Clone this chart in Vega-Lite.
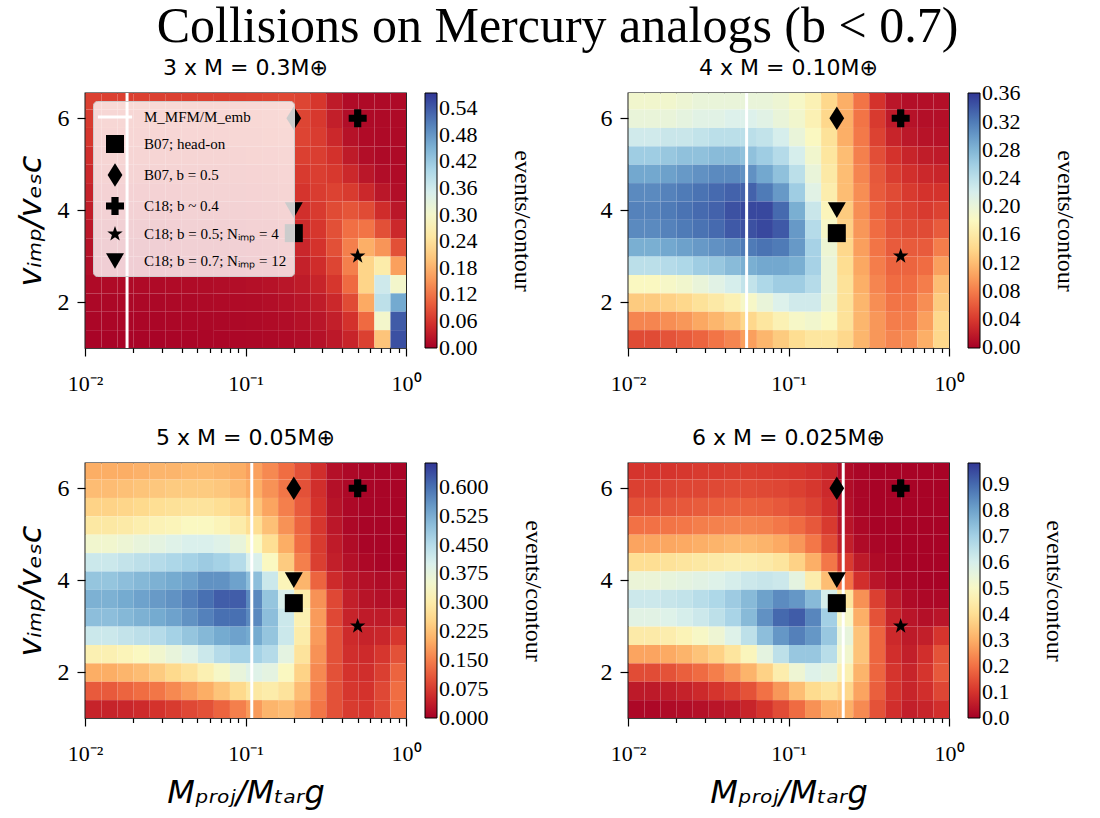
{
"$schema": "https://vega.github.io/schema/vega-lite/v6.json",
"padding": {"left": 13, "top": 1, "right": 5, "bottom": 5},
"background": "white",
"title": {"text": "Collisions on Mercury analogs (b < 0.7)", "font": "Liberation Serif", "fontSize": 50, "fontWeight": "normal", "anchor": "middle", "color": "black", "offset": 4, "dx": 12},
"datasets": {
"mk": [
{"label": "B07; head-on", "x": -0.699, "y": 3.5},
{"label": "B07, b = 0.5", "x": -0.699, "y": 6},
{"label": "C18; b ~ 0.4", "x": -0.301, "y": 6},
{"label": "C18; b = 0.5; Nᵢₘₚ = 4", "x": -0.301, "y": 3},
{"label": "C18; b = 0.7; Nᵢₘₚ = 12", "x": -0.699, "y": 4}
],
"A": [
{"x":-2,"y":6.2,"v":0.07},{"x":-1.9,"y":6.2,"v":0.07},{"x":-1.8,"y":6.2,"v":0.07},{"x":-1.7,"y":6.2,"v":0.07},{"x":-1.6,"y":6.2,"v":0.07},{"x":-1.5,"y":6.2,"v":0.07},{"x":-1.4,"y":6.2,"v":0.07},{"x":-1.3,"y":6.2,"v":0.07},{"x":-1.2,"y":6.2,"v":0.07},{"x":-1.1,"y":6.2,"v":0.07},{"x":-1,"y":6.2,"v":0.072},{"x":-0.9,"y":6.2,"v":0.075},{"x":-0.8,"y":6.2,"v":0.078},{"x":-0.7,"y":6.2,"v":0.075},{"x":-0.6,"y":6.2,"v":0.06},{"x":-0.5,"y":6.2,"v":0.03},{"x":-0.4,"y":6.2,"v":0.012},{"x":-0.3,"y":6.2,"v":0.01},{"x":-0.2,"y":6.2,"v":0.01},{"x":-0.1,"y":6.2,"v":0.01},
{"x":-2,"y":5.8,"v":0.065},{"x":-1.9,"y":5.8,"v":0.065},{"x":-1.8,"y":5.8,"v":0.065},{"x":-1.7,"y":5.8,"v":0.065},{"x":-1.6,"y":5.8,"v":0.065},{"x":-1.5,"y":5.8,"v":0.065},{"x":-1.4,"y":5.8,"v":0.065},{"x":-1.3,"y":5.8,"v":0.065},{"x":-1.2,"y":5.8,"v":0.065},{"x":-1.1,"y":5.8,"v":0.066},{"x":-1,"y":5.8,"v":0.068},{"x":-0.9,"y":5.8,"v":0.072},{"x":-0.8,"y":5.8,"v":0.076},{"x":-0.7,"y":5.8,"v":0.075},{"x":-0.6,"y":5.8,"v":0.062},{"x":-0.5,"y":5.8,"v":0.035},{"x":-0.4,"y":5.8,"v":0.014},{"x":-0.3,"y":5.8,"v":0.01},{"x":-0.2,"y":5.8,"v":0.01},{"x":-0.1,"y":5.8,"v":0.01},
{"x":-2,"y":5.4,"v":0.06},{"x":-1.9,"y":5.4,"v":0.06},{"x":-1.8,"y":5.4,"v":0.06},{"x":-1.7,"y":5.4,"v":0.06},{"x":-1.6,"y":5.4,"v":0.06},{"x":-1.5,"y":5.4,"v":0.06},{"x":-1.4,"y":5.4,"v":0.06},{"x":-1.3,"y":5.4,"v":0.06},{"x":-1.2,"y":5.4,"v":0.06},{"x":-1.1,"y":5.4,"v":0.061},{"x":-1,"y":5.4,"v":0.063},{"x":-0.9,"y":5.4,"v":0.067},{"x":-0.8,"y":5.4,"v":0.072},{"x":-0.7,"y":5.4,"v":0.074},{"x":-0.6,"y":5.4,"v":0.066},{"x":-0.5,"y":5.4,"v":0.045},{"x":-0.4,"y":5.4,"v":0.02},{"x":-0.3,"y":5.4,"v":0.012},{"x":-0.2,"y":5.4,"v":0.01},{"x":-0.1,"y":5.4,"v":0.01},
{"x":-2,"y":5,"v":0.052},{"x":-1.9,"y":5,"v":0.052},{"x":-1.8,"y":5,"v":0.052},{"x":-1.7,"y":5,"v":0.052},{"x":-1.6,"y":5,"v":0.052},{"x":-1.5,"y":5,"v":0.052},{"x":-1.4,"y":5,"v":0.052},{"x":-1.3,"y":5,"v":0.052},{"x":-1.2,"y":5,"v":0.053},{"x":-1.1,"y":5,"v":0.054},{"x":-1,"y":5,"v":0.056},{"x":-0.9,"y":5,"v":0.06},{"x":-0.8,"y":5,"v":0.065},{"x":-0.7,"y":5,"v":0.07},{"x":-0.6,"y":5,"v":0.068},{"x":-0.5,"y":5,"v":0.055},{"x":-0.4,"y":5,"v":0.03},{"x":-0.3,"y":5,"v":0.015},{"x":-0.2,"y":5,"v":0.01},{"x":-0.1,"y":5,"v":0.01},
{"x":-2,"y":4.6,"v":0.045},{"x":-1.9,"y":4.6,"v":0.045},{"x":-1.8,"y":4.6,"v":0.045},{"x":-1.7,"y":4.6,"v":0.045},{"x":-1.6,"y":4.6,"v":0.045},{"x":-1.5,"y":4.6,"v":0.045},{"x":-1.4,"y":4.6,"v":0.045},{"x":-1.3,"y":4.6,"v":0.046},{"x":-1.2,"y":4.6,"v":0.047},{"x":-1.1,"y":4.6,"v":0.048},{"x":-1,"y":4.6,"v":0.05},{"x":-0.9,"y":4.6,"v":0.053},{"x":-0.8,"y":4.6,"v":0.058},{"x":-0.7,"y":4.6,"v":0.064},{"x":-0.6,"y":4.6,"v":0.068},{"x":-0.5,"y":4.6,"v":0.062},{"x":-0.4,"y":4.6,"v":0.045},{"x":-0.3,"y":4.6,"v":0.025},{"x":-0.2,"y":4.6,"v":0.014},{"x":-0.1,"y":4.6,"v":0.012},
{"x":-2,"y":4.2,"v":0.038},{"x":-1.9,"y":4.2,"v":0.038},{"x":-1.8,"y":4.2,"v":0.038},{"x":-1.7,"y":4.2,"v":0.038},{"x":-1.6,"y":4.2,"v":0.038},{"x":-1.5,"y":4.2,"v":0.038},{"x":-1.4,"y":4.2,"v":0.039},{"x":-1.3,"y":4.2,"v":0.04},{"x":-1.2,"y":4.2,"v":0.041},{"x":-1.1,"y":4.2,"v":0.042},{"x":-1,"y":4.2,"v":0.044},{"x":-0.9,"y":4.2,"v":0.047},{"x":-0.8,"y":4.2,"v":0.052},{"x":-0.7,"y":4.2,"v":0.058},{"x":-0.6,"y":4.2,"v":0.066},{"x":-0.5,"y":4.2,"v":0.072},{"x":-0.4,"y":4.2,"v":0.065},{"x":-0.3,"y":4.2,"v":0.045},{"x":-0.2,"y":4.2,"v":0.025},{"x":-0.1,"y":4.2,"v":0.015},
{"x":-2,"y":3.8,"v":0.032},{"x":-1.9,"y":3.8,"v":0.032},{"x":-1.8,"y":3.8,"v":0.032},{"x":-1.7,"y":3.8,"v":0.032},{"x":-1.6,"y":3.8,"v":0.032},{"x":-1.5,"y":3.8,"v":0.032},{"x":-1.4,"y":3.8,"v":0.033},{"x":-1.3,"y":3.8,"v":0.034},{"x":-1.2,"y":3.8,"v":0.035},{"x":-1.1,"y":3.8,"v":0.036},{"x":-1,"y":3.8,"v":0.038},{"x":-0.9,"y":3.8,"v":0.041},{"x":-0.8,"y":3.8,"v":0.046},{"x":-0.7,"y":3.8,"v":0.053},{"x":-0.6,"y":3.8,"v":0.064},{"x":-0.5,"y":3.8,"v":0.08},{"x":-0.4,"y":3.8,"v":0.09},{"x":-0.3,"y":3.8,"v":0.08},{"x":-0.2,"y":3.8,"v":0.05},{"x":-0.1,"y":3.8,"v":0.025},
{"x":-2,"y":3.4,"v":0.026},{"x":-1.9,"y":3.4,"v":0.026},{"x":-1.8,"y":3.4,"v":0.026},{"x":-1.7,"y":3.4,"v":0.026},{"x":-1.6,"y":3.4,"v":0.026},{"x":-1.5,"y":3.4,"v":0.027},{"x":-1.4,"y":3.4,"v":0.028},{"x":-1.3,"y":3.4,"v":0.029},{"x":-1.2,"y":3.4,"v":0.03},{"x":-1.1,"y":3.4,"v":0.031},{"x":-1,"y":3.4,"v":0.033},{"x":-0.9,"y":3.4,"v":0.036},{"x":-0.8,"y":3.4,"v":0.041},{"x":-0.7,"y":3.4,"v":0.048},{"x":-0.6,"y":3.4,"v":0.06},{"x":-0.5,"y":3.4,"v":0.085},{"x":-0.4,"y":3.4,"v":0.115},{"x":-0.3,"y":3.4,"v":0.12},{"x":-0.2,"y":3.4,"v":0.085},{"x":-0.1,"y":3.4,"v":0.045},
{"x":-2,"y":3,"v":0.02},{"x":-1.9,"y":3,"v":0.02},{"x":-1.8,"y":3,"v":0.02},{"x":-1.7,"y":3,"v":0.02},{"x":-1.6,"y":3,"v":0.02},{"x":-1.5,"y":3,"v":0.021},{"x":-1.4,"y":3,"v":0.022},{"x":-1.3,"y":3,"v":0.023},{"x":-1.2,"y":3,"v":0.024},{"x":-1.1,"y":3,"v":0.025},{"x":-1,"y":3,"v":0.027},{"x":-0.9,"y":3,"v":0.03},{"x":-0.8,"y":3,"v":0.035},{"x":-0.7,"y":3,"v":0.043},{"x":-0.6,"y":3,"v":0.056},{"x":-0.5,"y":3,"v":0.085},{"x":-0.4,"y":3,"v":0.13},{"x":-0.3,"y":3,"v":0.175},{"x":-0.2,"y":3,"v":0.15},{"x":-0.1,"y":3,"v":0.085},
{"x":-2,"y":2.6,"v":0.015},{"x":-1.9,"y":2.6,"v":0.015},{"x":-1.8,"y":2.6,"v":0.015},{"x":-1.7,"y":2.6,"v":0.015},{"x":-1.6,"y":2.6,"v":0.015},{"x":-1.5,"y":2.6,"v":0.016},{"x":-1.4,"y":2.6,"v":0.017},{"x":-1.3,"y":2.6,"v":0.018},{"x":-1.2,"y":2.6,"v":0.019},{"x":-1.1,"y":2.6,"v":0.02},{"x":-1,"y":2.6,"v":0.022},{"x":-0.9,"y":2.6,"v":0.025},{"x":-0.8,"y":2.6,"v":0.03},{"x":-0.7,"y":2.6,"v":0.037},{"x":-0.6,"y":2.6,"v":0.05},{"x":-0.5,"y":2.6,"v":0.075},{"x":-0.4,"y":2.6,"v":0.13},{"x":-0.3,"y":2.6,"v":0.22},{"x":-0.2,"y":2.6,"v":0.26},{"x":-0.1,"y":2.6,"v":0.16},
{"x":-2,"y":2.2,"v":0.011},{"x":-1.9,"y":2.2,"v":0.011},{"x":-1.8,"y":2.2,"v":0.011},{"x":-1.7,"y":2.2,"v":0.011},{"x":-1.6,"y":2.2,"v":0.011},{"x":-1.5,"y":2.2,"v":0.012},{"x":-1.4,"y":2.2,"v":0.012},{"x":-1.3,"y":2.2,"v":0.013},{"x":-1.2,"y":2.2,"v":0.014},{"x":-1.1,"y":2.2,"v":0.015},{"x":-1,"y":2.2,"v":0.017},{"x":-0.9,"y":2.2,"v":0.02},{"x":-0.8,"y":2.2,"v":0.024},{"x":-0.7,"y":2.2,"v":0.03},{"x":-0.6,"y":2.2,"v":0.04},{"x":-0.5,"y":2.2,"v":0.06},{"x":-0.4,"y":2.2,"v":0.11},{"x":-0.3,"y":2.2,"v":0.22},{"x":-0.2,"y":2.2,"v":0.36},{"x":-0.1,"y":2.2,"v":0.3},
{"x":-2,"y":1.8,"v":0.008},{"x":-1.9,"y":1.8,"v":0.008},{"x":-1.8,"y":1.8,"v":0.008},{"x":-1.7,"y":1.8,"v":0.008},{"x":-1.6,"y":1.8,"v":0.008},{"x":-1.5,"y":1.8,"v":0.009},{"x":-1.4,"y":1.8,"v":0.009},{"x":-1.3,"y":1.8,"v":0.01},{"x":-1.2,"y":1.8,"v":0.011},{"x":-1.1,"y":1.8,"v":0.012},{"x":-1,"y":1.8,"v":0.013},{"x":-0.9,"y":1.8,"v":0.015},{"x":-0.8,"y":1.8,"v":0.018},{"x":-0.7,"y":1.8,"v":0.023},{"x":-0.6,"y":1.8,"v":0.031},{"x":-0.5,"y":1.8,"v":0.045},{"x":-0.4,"y":1.8,"v":0.08},{"x":-0.3,"y":1.8,"v":0.17},{"x":-0.2,"y":1.8,"v":0.38},{"x":-0.1,"y":1.8,"v":0.46},
{"x":-2,"y":1.4,"v":0.006},{"x":-1.9,"y":1.4,"v":0.006},{"x":-1.8,"y":1.4,"v":0.006},{"x":-1.7,"y":1.4,"v":0.006},{"x":-1.6,"y":1.4,"v":0.006},{"x":-1.5,"y":1.4,"v":0.007},{"x":-1.4,"y":1.4,"v":0.007},{"x":-1.3,"y":1.4,"v":0.008},{"x":-1.2,"y":1.4,"v":0.008},{"x":-1.1,"y":1.4,"v":0.009},{"x":-1,"y":1.4,"v":0.01},{"x":-0.9,"y":1.4,"v":0.012},{"x":-0.8,"y":1.4,"v":0.014},{"x":-0.7,"y":1.4,"v":0.018},{"x":-0.6,"y":1.4,"v":0.024},{"x":-0.5,"y":1.4,"v":0.035},{"x":-0.4,"y":1.4,"v":0.055},{"x":-0.3,"y":1.4,"v":0.11},{"x":-0.2,"y":1.4,"v":0.3},{"x":-0.1,"y":1.4,"v":0.54},
{"x":-2,"y":1,"v":0.004},{"x":-1.9,"y":1,"v":0.004},{"x":-1.8,"y":1,"v":0.004},{"x":-1.7,"y":1,"v":0.004},{"x":-1.6,"y":1,"v":0.004},{"x":-1.5,"y":1,"v":0.005},{"x":-1.4,"y":1,"v":0.005},{"x":-1.3,"y":1,"v":0.006},{"x":-1.2,"y":1,"v":0.006},{"x":-1.1,"y":1,"v":0.007},{"x":-1,"y":1,"v":0.008},{"x":-0.9,"y":1,"v":0.009},{"x":-0.8,"y":1,"v":0.011},{"x":-0.7,"y":1,"v":0.014},{"x":-0.6,"y":1,"v":0.019},{"x":-0.5,"y":1,"v":0.027},{"x":-0.4,"y":1,"v":0.04},{"x":-0.3,"y":1,"v":0.07},{"x":-0.2,"y":1,"v":0.2},{"x":-0.1,"y":1,"v":0.55}
],
"B": [
{"x":-2,"y":6.2,"v":0.19},{"x":-1.9,"y":6.2,"v":0.19},{"x":-1.8,"y":6.2,"v":0.19},{"x":-1.7,"y":6.2,"v":0.195},{"x":-1.6,"y":6.2,"v":0.2},{"x":-1.5,"y":6.2,"v":0.2},{"x":-1.4,"y":6.2,"v":0.2},{"x":-1.3,"y":6.2,"v":0.2},{"x":-1.2,"y":6.2,"v":0.2},{"x":-1.1,"y":6.2,"v":0.195},{"x":-1,"y":6.2,"v":0.185},{"x":-0.9,"y":6.2,"v":0.17},{"x":-0.8,"y":6.2,"v":0.14},{"x":-0.7,"y":6.2,"v":0.11},{"x":-0.6,"y":6.2,"v":0.075},{"x":-0.5,"y":6.2,"v":0.035},{"x":-0.4,"y":6.2,"v":0.015},{"x":-0.3,"y":6.2,"v":0.01},{"x":-0.2,"y":6.2,"v":0.01},{"x":-0.1,"y":6.2,"v":0.01},
{"x":-2,"y":5.8,"v":0.2},{"x":-1.9,"y":5.8,"v":0.2},{"x":-1.8,"y":5.8,"v":0.2},{"x":-1.7,"y":5.8,"v":0.205},{"x":-1.6,"y":5.8,"v":0.21},{"x":-1.5,"y":5.8,"v":0.21},{"x":-1.4,"y":5.8,"v":0.215},{"x":-1.3,"y":5.8,"v":0.215},{"x":-1.2,"y":5.8,"v":0.21},{"x":-1.1,"y":5.8,"v":0.2},{"x":-1,"y":5.8,"v":0.19},{"x":-0.9,"y":5.8,"v":0.17},{"x":-0.8,"y":5.8,"v":0.14},{"x":-0.7,"y":5.8,"v":0.11},{"x":-0.6,"y":5.8,"v":0.075},{"x":-0.5,"y":5.8,"v":0.04},{"x":-0.4,"y":5.8,"v":0.018},{"x":-0.3,"y":5.8,"v":0.012},{"x":-0.2,"y":5.8,"v":0.01},{"x":-0.1,"y":5.8,"v":0.01},
{"x":-2,"y":5.4,"v":0.225},{"x":-1.9,"y":5.4,"v":0.225},{"x":-1.8,"y":5.4,"v":0.23},{"x":-1.7,"y":5.4,"v":0.23},{"x":-1.6,"y":5.4,"v":0.235},{"x":-1.5,"y":5.4,"v":0.24},{"x":-1.4,"y":5.4,"v":0.24},{"x":-1.3,"y":5.4,"v":0.24},{"x":-1.2,"y":5.4,"v":0.235},{"x":-1.1,"y":5.4,"v":0.22},{"x":-1,"y":5.4,"v":0.2},{"x":-0.9,"y":5.4,"v":0.18},{"x":-0.8,"y":5.4,"v":0.15},{"x":-0.7,"y":5.4,"v":0.11},{"x":-0.6,"y":5.4,"v":0.078},{"x":-0.5,"y":5.4,"v":0.045},{"x":-0.4,"y":5.4,"v":0.025},{"x":-0.3,"y":5.4,"v":0.016},{"x":-0.2,"y":5.4,"v":0.013},{"x":-0.1,"y":5.4,"v":0.012},
{"x":-2,"y":5,"v":0.26},{"x":-1.9,"y":5,"v":0.26},{"x":-1.8,"y":5,"v":0.265},{"x":-1.7,"y":5,"v":0.27},{"x":-1.6,"y":5,"v":0.27},{"x":-1.5,"y":5,"v":0.275},{"x":-1.4,"y":5,"v":0.275},{"x":-1.3,"y":5,"v":0.27},{"x":-1.2,"y":5,"v":0.26},{"x":-1.1,"y":5,"v":0.245},{"x":-1,"y":5,"v":0.22},{"x":-0.9,"y":5,"v":0.19},{"x":-0.8,"y":5,"v":0.155},{"x":-0.7,"y":5,"v":0.12},{"x":-0.6,"y":5,"v":0.082},{"x":-0.5,"y":5,"v":0.052},{"x":-0.4,"y":5,"v":0.035},{"x":-0.3,"y":5,"v":0.025},{"x":-0.2,"y":5,"v":0.02},{"x":-0.1,"y":5,"v":0.018},
{"x":-2,"y":4.6,"v":0.29},{"x":-1.9,"y":4.6,"v":0.29},{"x":-1.8,"y":4.6,"v":0.295},{"x":-1.7,"y":4.6,"v":0.3},{"x":-1.6,"y":4.6,"v":0.305},{"x":-1.5,"y":4.6,"v":0.31},{"x":-1.4,"y":4.6,"v":0.31},{"x":-1.3,"y":4.6,"v":0.305},{"x":-1.2,"y":4.6,"v":0.29},{"x":-1.1,"y":4.6,"v":0.27},{"x":-1,"y":4.6,"v":0.24},{"x":-0.9,"y":4.6,"v":0.2},{"x":-0.8,"y":4.6,"v":0.16},{"x":-0.7,"y":4.6,"v":0.12},{"x":-0.6,"y":4.6,"v":0.085},{"x":-0.5,"y":4.6,"v":0.058},{"x":-0.4,"y":4.6,"v":0.042},{"x":-0.3,"y":4.6,"v":0.033},{"x":-0.2,"y":4.6,"v":0.028},{"x":-0.1,"y":4.6,"v":0.026},
{"x":-2,"y":4.2,"v":0.31},{"x":-1.9,"y":4.2,"v":0.31},{"x":-1.8,"y":4.2,"v":0.315},{"x":-1.7,"y":4.2,"v":0.32},{"x":-1.6,"y":4.2,"v":0.325},{"x":-1.5,"y":4.2,"v":0.33},{"x":-1.4,"y":4.2,"v":0.335},{"x":-1.3,"y":4.2,"v":0.335},{"x":-1.2,"y":4.2,"v":0.32},{"x":-1.1,"y":4.2,"v":0.3},{"x":-1,"y":4.2,"v":0.26},{"x":-0.9,"y":4.2,"v":0.21},{"x":-0.8,"y":4.2,"v":0.165},{"x":-0.7,"y":4.2,"v":0.12},{"x":-0.6,"y":4.2,"v":0.09},{"x":-0.5,"y":4.2,"v":0.06},{"x":-0.4,"y":4.2,"v":0.05},{"x":-0.3,"y":4.2,"v":0.04},{"x":-0.2,"y":4.2,"v":0.035},{"x":-0.1,"y":4.2,"v":0.035},
{"x":-2,"y":3.8,"v":0.315},{"x":-1.9,"y":3.8,"v":0.315},{"x":-1.8,"y":3.8,"v":0.32},{"x":-1.7,"y":3.8,"v":0.325},{"x":-1.6,"y":3.8,"v":0.33},{"x":-1.5,"y":3.8,"v":0.335},{"x":-1.4,"y":3.8,"v":0.345},{"x":-1.3,"y":3.8,"v":0.35},{"x":-1.2,"y":3.8,"v":0.35},{"x":-1.1,"y":3.8,"v":0.33},{"x":-1,"y":3.8,"v":0.285},{"x":-0.9,"y":3.8,"v":0.23},{"x":-0.8,"y":3.8,"v":0.175},{"x":-0.7,"y":3.8,"v":0.13},{"x":-0.6,"y":3.8,"v":0.09},{"x":-0.5,"y":3.8,"v":0.065},{"x":-0.4,"y":3.8,"v":0.05},{"x":-0.3,"y":3.8,"v":0.045},{"x":-0.2,"y":3.8,"v":0.04},{"x":-0.1,"y":3.8,"v":0.045},
{"x":-2,"y":3.4,"v":0.31},{"x":-1.9,"y":3.4,"v":0.31},{"x":-1.8,"y":3.4,"v":0.315},{"x":-1.7,"y":3.4,"v":0.32},{"x":-1.6,"y":3.4,"v":0.325},{"x":-1.5,"y":3.4,"v":0.33},{"x":-1.4,"y":3.4,"v":0.34},{"x":-1.3,"y":3.4,"v":0.345},{"x":-1.2,"y":3.4,"v":0.35},{"x":-1.1,"y":3.4,"v":0.34},{"x":-1,"y":3.4,"v":0.3},{"x":-0.9,"y":3.4,"v":0.245},{"x":-0.8,"y":3.4,"v":0.185},{"x":-0.7,"y":3.4,"v":0.135},{"x":-0.6,"y":3.4,"v":0.095},{"x":-0.5,"y":3.4,"v":0.07},{"x":-0.4,"y":3.4,"v":0.055},{"x":-0.3,"y":3.4,"v":0.05},{"x":-0.2,"y":3.4,"v":0.05},{"x":-0.1,"y":3.4,"v":0.06},
{"x":-2,"y":3,"v":0.285},{"x":-1.9,"y":3,"v":0.285},{"x":-1.8,"y":3,"v":0.29},{"x":-1.7,"y":3,"v":0.295},{"x":-1.6,"y":3,"v":0.3},{"x":-1.5,"y":3,"v":0.305},{"x":-1.4,"y":3,"v":0.31},{"x":-1.3,"y":3,"v":0.32},{"x":-1.2,"y":3,"v":0.325},{"x":-1.1,"y":3,"v":0.32},{"x":-1,"y":3,"v":0.3},{"x":-0.9,"y":3,"v":0.255},{"x":-0.8,"y":3,"v":0.195},{"x":-0.7,"y":3,"v":0.14},{"x":-0.6,"y":3,"v":0.1},{"x":-0.5,"y":3,"v":0.075},{"x":-0.4,"y":3,"v":0.06},{"x":-0.3,"y":3,"v":0.06},{"x":-0.2,"y":3,"v":0.06},{"x":-0.1,"y":3,"v":0.08},
{"x":-2,"y":2.6,"v":0.24},{"x":-1.9,"y":2.6,"v":0.24},{"x":-1.8,"y":2.6,"v":0.245},{"x":-1.7,"y":2.6,"v":0.25},{"x":-1.6,"y":2.6,"v":0.26},{"x":-1.5,"y":2.6,"v":0.265},{"x":-1.4,"y":2.6,"v":0.275},{"x":-1.3,"y":2.6,"v":0.285},{"x":-1.2,"y":2.6,"v":0.29},{"x":-1.1,"y":2.6,"v":0.29},{"x":-1,"y":2.6,"v":0.285},{"x":-0.9,"y":2.6,"v":0.255},{"x":-0.8,"y":2.6,"v":0.2},{"x":-0.7,"y":2.6,"v":0.145},{"x":-0.6,"y":2.6,"v":0.105},{"x":-0.5,"y":2.6,"v":0.08},{"x":-0.4,"y":2.6,"v":0.065},{"x":-0.3,"y":2.6,"v":0.065},{"x":-0.2,"y":2.6,"v":0.07},{"x":-0.1,"y":2.6,"v":0.1},
{"x":-2,"y":2.2,"v":0.18},{"x":-1.9,"y":2.2,"v":0.18},{"x":-1.8,"y":2.2,"v":0.185},{"x":-1.7,"y":2.2,"v":0.19},{"x":-1.6,"y":2.2,"v":0.2},{"x":-1.5,"y":2.2,"v":0.21},{"x":-1.4,"y":2.2,"v":0.22},{"x":-1.3,"y":2.2,"v":0.235},{"x":-1.2,"y":2.2,"v":0.25},{"x":-1.1,"y":2.2,"v":0.26},{"x":-1,"y":2.2,"v":0.26},{"x":-0.9,"y":2.2,"v":0.245},{"x":-0.8,"y":2.2,"v":0.2},{"x":-0.7,"y":2.2,"v":0.15},{"x":-0.6,"y":2.2,"v":0.11},{"x":-0.5,"y":2.2,"v":0.085},{"x":-0.4,"y":2.2,"v":0.07},{"x":-0.3,"y":2.2,"v":0.07},{"x":-0.2,"y":2.2,"v":0.08},{"x":-0.1,"y":2.2,"v":0.12},
{"x":-2,"y":1.8,"v":0.13},{"x":-1.9,"y":1.8,"v":0.13},{"x":-1.8,"y":1.8,"v":0.135},{"x":-1.7,"y":1.8,"v":0.14},{"x":-1.6,"y":1.8,"v":0.15},{"x":-1.5,"y":1.8,"v":0.16},{"x":-1.4,"y":1.8,"v":0.17},{"x":-1.3,"y":1.8,"v":0.185},{"x":-1.2,"y":1.8,"v":0.2},{"x":-1.1,"y":1.8,"v":0.215},{"x":-1,"y":1.8,"v":0.225},{"x":-0.9,"y":1.8,"v":0.225},{"x":-0.8,"y":1.8,"v":0.195},{"x":-0.7,"y":1.8,"v":0.15},{"x":-0.6,"y":1.8,"v":0.115},{"x":-0.5,"y":1.8,"v":0.09},{"x":-0.4,"y":1.8,"v":0.075},{"x":-0.3,"y":1.8,"v":0.075},{"x":-0.2,"y":1.8,"v":0.09},{"x":-0.1,"y":1.8,"v":0.13},
{"x":-2,"y":1.4,"v":0.085},{"x":-1.9,"y":1.4,"v":0.085},{"x":-1.8,"y":1.4,"v":0.09},{"x":-1.7,"y":1.4,"v":0.095},{"x":-1.6,"y":1.4,"v":0.105},{"x":-1.5,"y":1.4,"v":0.115},{"x":-1.4,"y":1.4,"v":0.125},{"x":-1.3,"y":1.4,"v":0.14},{"x":-1.2,"y":1.4,"v":0.155},{"x":-1.1,"y":1.4,"v":0.17},{"x":-1,"y":1.4,"v":0.185},{"x":-0.9,"y":1.4,"v":0.19},{"x":-0.8,"y":1.4,"v":0.18},{"x":-0.7,"y":1.4,"v":0.15},{"x":-0.6,"y":1.4,"v":0.115},{"x":-0.5,"y":1.4,"v":0.095},{"x":-0.4,"y":1.4,"v":0.08},{"x":-0.3,"y":1.4,"v":0.08},{"x":-0.2,"y":1.4,"v":0.1},{"x":-0.1,"y":1.4,"v":0.14},
{"x":-2,"y":1,"v":0.05},{"x":-1.9,"y":1,"v":0.05},{"x":-1.8,"y":1,"v":0.055},{"x":-1.7,"y":1,"v":0.06},{"x":-1.6,"y":1,"v":0.065},{"x":-1.5,"y":1,"v":0.075},{"x":-1.4,"y":1,"v":0.085},{"x":-1.3,"y":1,"v":0.1},{"x":-1.2,"y":1,"v":0.115},{"x":-1.1,"y":1,"v":0.13},{"x":-1,"y":1,"v":0.145},{"x":-0.9,"y":1,"v":0.155},{"x":-0.8,"y":1,"v":0.155},{"x":-0.7,"y":1,"v":0.14},{"x":-0.6,"y":1,"v":0.115},{"x":-0.5,"y":1,"v":0.095},{"x":-0.4,"y":1,"v":0.085},{"x":-0.3,"y":1,"v":0.09},{"x":-0.2,"y":1,"v":0.11},{"x":-0.1,"y":1,"v":0.14}
],
"C": [
{"x":-2,"y":6.2,"v":0.2},{"x":-1.9,"y":6.2,"v":0.2},{"x":-1.8,"y":6.2,"v":0.2},{"x":-1.7,"y":6.2,"v":0.205},{"x":-1.6,"y":6.2,"v":0.21},{"x":-1.5,"y":6.2,"v":0.21},{"x":-1.4,"y":6.2,"v":0.215},{"x":-1.3,"y":6.2,"v":0.215},{"x":-1.2,"y":6.2,"v":0.21},{"x":-1.1,"y":6.2,"v":0.2},{"x":-1,"y":6.2,"v":0.185},{"x":-0.9,"y":6.2,"v":0.16},{"x":-0.8,"y":6.2,"v":0.13},{"x":-0.7,"y":6.2,"v":0.1},{"x":-0.6,"y":6.2,"v":0.06},{"x":-0.5,"y":6.2,"v":0.02},{"x":-0.4,"y":6.2,"v":0.01},{"x":-0.3,"y":6.2,"v":0.005},{"x":-0.2,"y":6.2,"v":0.005},{"x":-0.1,"y":6.2,"v":0.005},
{"x":-2,"y":5.8,"v":0.22},{"x":-1.9,"y":5.8,"v":0.22},{"x":-1.8,"y":5.8,"v":0.225},{"x":-1.7,"y":5.8,"v":0.23},{"x":-1.6,"y":5.8,"v":0.235},{"x":-1.5,"y":5.8,"v":0.24},{"x":-1.4,"y":5.8,"v":0.24},{"x":-1.3,"y":5.8,"v":0.24},{"x":-1.2,"y":5.8,"v":0.235},{"x":-1.1,"y":5.8,"v":0.22},{"x":-1,"y":5.8,"v":0.2},{"x":-0.9,"y":5.8,"v":0.17},{"x":-0.8,"y":5.8,"v":0.14},{"x":-0.7,"y":5.8,"v":0.1},{"x":-0.6,"y":5.8,"v":0.06},{"x":-0.5,"y":5.8,"v":0.02},{"x":-0.4,"y":5.8,"v":0.01},{"x":-0.3,"y":5.8,"v":0.005},{"x":-0.2,"y":5.8,"v":0.005},{"x":-0.1,"y":5.8,"v":0.005},
{"x":-2,"y":5.4,"v":0.25},{"x":-1.9,"y":5.4,"v":0.25},{"x":-1.8,"y":5.4,"v":0.255},{"x":-1.7,"y":5.4,"v":0.26},{"x":-1.6,"y":5.4,"v":0.27},{"x":-1.5,"y":5.4,"v":0.275},{"x":-1.4,"y":5.4,"v":0.28},{"x":-1.3,"y":5.4,"v":0.28},{"x":-1.2,"y":5.4,"v":0.27},{"x":-1.1,"y":5.4,"v":0.255},{"x":-1,"y":5.4,"v":0.23},{"x":-0.9,"y":5.4,"v":0.19},{"x":-0.8,"y":5.4,"v":0.15},{"x":-0.7,"y":5.4,"v":0.11},{"x":-0.6,"y":5.4,"v":0.065},{"x":-0.5,"y":5.4,"v":0.025},{"x":-0.4,"y":5.4,"v":0.01},{"x":-0.3,"y":5.4,"v":0.005},{"x":-0.2,"y":5.4,"v":0.005},{"x":-0.1,"y":5.4,"v":0.005},
{"x":-2,"y":5,"v":0.29},{"x":-1.9,"y":5,"v":0.29},{"x":-1.8,"y":5,"v":0.295},{"x":-1.7,"y":5,"v":0.305},{"x":-1.6,"y":5,"v":0.315},{"x":-1.5,"y":5,"v":0.32},{"x":-1.4,"y":5,"v":0.33},{"x":-1.3,"y":5,"v":0.33},{"x":-1.2,"y":5,"v":0.32},{"x":-1.1,"y":5,"v":0.3},{"x":-1,"y":5,"v":0.27},{"x":-0.9,"y":5,"v":0.225},{"x":-0.8,"y":5,"v":0.17},{"x":-0.7,"y":5,"v":0.12},{"x":-0.6,"y":5,"v":0.07},{"x":-0.5,"y":5,"v":0.03},{"x":-0.4,"y":5,"v":0.01},{"x":-0.3,"y":5,"v":0.005},{"x":-0.2,"y":5,"v":0.005},{"x":-0.1,"y":5,"v":0.005},
{"x":-2,"y":4.6,"v":0.35},{"x":-1.9,"y":4.6,"v":0.35},{"x":-1.8,"y":4.6,"v":0.36},{"x":-1.7,"y":4.6,"v":0.37},{"x":-1.6,"y":4.6,"v":0.38},{"x":-1.5,"y":4.6,"v":0.39},{"x":-1.4,"y":4.6,"v":0.4},{"x":-1.3,"y":4.6,"v":0.4},{"x":-1.2,"y":4.6,"v":0.39},{"x":-1.1,"y":4.6,"v":0.37},{"x":-1,"y":4.6,"v":0.33},{"x":-0.9,"y":4.6,"v":0.27},{"x":-0.8,"y":4.6,"v":0.2},{"x":-0.7,"y":4.6,"v":0.13},{"x":-0.6,"y":4.6,"v":0.075},{"x":-0.5,"y":4.6,"v":0.035},{"x":-0.4,"y":4.6,"v":0.015},{"x":-0.3,"y":4.6,"v":0.005},{"x":-0.2,"y":4.6,"v":0.005},{"x":-0.1,"y":4.6,"v":0.005},
{"x":-2,"y":4.2,"v":0.42},{"x":-1.9,"y":4.2,"v":0.42},{"x":-1.8,"y":4.2,"v":0.43},{"x":-1.7,"y":4.2,"v":0.44},{"x":-1.6,"y":4.2,"v":0.45},{"x":-1.5,"y":4.2,"v":0.46},{"x":-1.4,"y":4.2,"v":0.47},{"x":-1.3,"y":4.2,"v":0.48},{"x":-1.2,"y":4.2,"v":0.47},{"x":-1.1,"y":4.2,"v":0.45},{"x":-1,"y":4.2,"v":0.4},{"x":-0.9,"y":4.2,"v":0.33},{"x":-0.8,"y":4.2,"v":0.24},{"x":-0.7,"y":4.2,"v":0.15},{"x":-0.6,"y":4.2,"v":0.08},{"x":-0.5,"y":4.2,"v":0.04},{"x":-0.4,"y":4.2,"v":0.02},{"x":-0.3,"y":4.2,"v":0.01},{"x":-0.2,"y":4.2,"v":0.005},{"x":-0.1,"y":4.2,"v":0.005},
{"x":-2,"y":3.8,"v":0.49},{"x":-1.9,"y":3.8,"v":0.49},{"x":-1.8,"y":3.8,"v":0.5},{"x":-1.7,"y":3.8,"v":0.51},{"x":-1.6,"y":3.8,"v":0.52},{"x":-1.5,"y":3.8,"v":0.53},{"x":-1.4,"y":3.8,"v":0.54},{"x":-1.3,"y":3.8,"v":0.56},{"x":-1.2,"y":3.8,"v":0.56},{"x":-1.1,"y":3.8,"v":0.54},{"x":-1,"y":3.8,"v":0.5},{"x":-0.9,"y":3.8,"v":0.42},{"x":-0.8,"y":3.8,"v":0.32},{"x":-0.7,"y":3.8,"v":0.21},{"x":-0.6,"y":3.8,"v":0.12},{"x":-0.5,"y":3.8,"v":0.055},{"x":-0.4,"y":3.8,"v":0.03},{"x":-0.3,"y":3.8,"v":0.02},{"x":-0.2,"y":3.8,"v":0.015},{"x":-0.1,"y":3.8,"v":0.02},
{"x":-2,"y":3.4,"v":0.52},{"x":-1.9,"y":3.4,"v":0.52},{"x":-1.8,"y":3.4,"v":0.53},{"x":-1.7,"y":3.4,"v":0.54},{"x":-1.6,"y":3.4,"v":0.55},{"x":-1.5,"y":3.4,"v":0.56},{"x":-1.4,"y":3.4,"v":0.58},{"x":-1.3,"y":3.4,"v":0.6},{"x":-1.2,"y":3.4,"v":0.62},{"x":-1.1,"y":3.4,"v":0.62},{"x":-1,"y":3.4,"v":0.57},{"x":-0.9,"y":3.4,"v":0.49},{"x":-0.8,"y":3.4,"v":0.4},{"x":-0.7,"y":3.4,"v":0.3},{"x":-0.6,"y":3.4,"v":0.17},{"x":-0.5,"y":3.4,"v":0.09},{"x":-0.4,"y":3.4,"v":0.04},{"x":-0.3,"y":3.4,"v":0.025},{"x":-0.2,"y":3.4,"v":0.02},{"x":-0.1,"y":3.4,"v":0.02},
{"x":-2,"y":3,"v":0.5},{"x":-1.9,"y":3,"v":0.5},{"x":-1.8,"y":3,"v":0.51},{"x":-1.7,"y":3,"v":0.52},{"x":-1.6,"y":3,"v":0.53},{"x":-1.5,"y":3,"v":0.54},{"x":-1.4,"y":3,"v":0.56},{"x":-1.3,"y":3,"v":0.58},{"x":-1.2,"y":3,"v":0.6},{"x":-1.1,"y":3,"v":0.6},{"x":-1,"y":3,"v":0.57},{"x":-0.9,"y":3,"v":0.5},{"x":-0.8,"y":3,"v":0.42},{"x":-0.7,"y":3,"v":0.31},{"x":-0.6,"y":3,"v":0.18},{"x":-0.5,"y":3,"v":0.09},{"x":-0.4,"y":3,"v":0.045},{"x":-0.3,"y":3,"v":0.035},{"x":-0.2,"y":3,"v":0.035},{"x":-0.1,"y":3,"v":0.04},
{"x":-2,"y":2.6,"v":0.42},{"x":-1.9,"y":2.6,"v":0.42},{"x":-1.8,"y":2.6,"v":0.43},{"x":-1.7,"y":2.6,"v":0.44},{"x":-1.6,"y":2.6,"v":0.45},{"x":-1.5,"y":2.6,"v":0.47},{"x":-1.4,"y":2.6,"v":0.49},{"x":-1.3,"y":2.6,"v":0.51},{"x":-1.2,"y":2.6,"v":0.53},{"x":-1.1,"y":2.6,"v":0.54},{"x":-1,"y":2.6,"v":0.53},{"x":-0.9,"y":2.6,"v":0.49},{"x":-0.8,"y":2.6,"v":0.42},{"x":-0.7,"y":2.6,"v":0.3},{"x":-0.6,"y":2.6,"v":0.18},{"x":-0.5,"y":2.6,"v":0.1},{"x":-0.4,"y":2.6,"v":0.055},{"x":-0.3,"y":2.6,"v":0.045},{"x":-0.2,"y":2.6,"v":0.05},{"x":-0.1,"y":2.6,"v":0.07},
{"x":-2,"y":2.2,"v":0.31},{"x":-1.9,"y":2.2,"v":0.31},{"x":-1.8,"y":2.2,"v":0.32},{"x":-1.7,"y":2.2,"v":0.33},{"x":-1.6,"y":2.2,"v":0.35},{"x":-1.5,"y":2.2,"v":0.37},{"x":-1.4,"y":2.2,"v":0.39},{"x":-1.3,"y":2.2,"v":0.42},{"x":-1.2,"y":2.2,"v":0.45},{"x":-1.1,"y":2.2,"v":0.47},{"x":-1,"y":2.2,"v":0.47},{"x":-0.9,"y":2.2,"v":0.45},{"x":-0.8,"y":2.2,"v":0.38},{"x":-0.7,"y":2.2,"v":0.28},{"x":-0.6,"y":2.2,"v":0.17},{"x":-0.5,"y":2.2,"v":0.1},{"x":-0.4,"y":2.2,"v":0.06},{"x":-0.3,"y":2.2,"v":0.055},{"x":-0.2,"y":2.2,"v":0.07},{"x":-0.1,"y":2.2,"v":0.1},
{"x":-2,"y":1.8,"v":0.2},{"x":-1.9,"y":1.8,"v":0.2},{"x":-1.8,"y":1.8,"v":0.21},{"x":-1.7,"y":1.8,"v":0.22},{"x":-1.6,"y":1.8,"v":0.24},{"x":-1.5,"y":1.8,"v":0.26},{"x":-1.4,"y":1.8,"v":0.28},{"x":-1.3,"y":1.8,"v":0.31},{"x":-1.2,"y":1.8,"v":0.34},{"x":-1.1,"y":1.8,"v":0.37},{"x":-1,"y":1.8,"v":0.39},{"x":-0.9,"y":1.8,"v":0.38},{"x":-0.8,"y":1.8,"v":0.33},{"x":-0.7,"y":1.8,"v":0.25},{"x":-0.6,"y":1.8,"v":0.16},{"x":-0.5,"y":1.8,"v":0.1},{"x":-0.4,"y":1.8,"v":0.065},{"x":-0.3,"y":1.8,"v":0.06},{"x":-0.2,"y":1.8,"v":0.08},{"x":-0.1,"y":1.8,"v":0.12},
{"x":-2,"y":1.4,"v":0.11},{"x":-1.9,"y":1.4,"v":0.11},{"x":-1.8,"y":1.4,"v":0.12},{"x":-1.7,"y":1.4,"v":0.13},{"x":-1.6,"y":1.4,"v":0.14},{"x":-1.5,"y":1.4,"v":0.16},{"x":-1.4,"y":1.4,"v":0.18},{"x":-1.3,"y":1.4,"v":0.2},{"x":-1.2,"y":1.4,"v":0.23},{"x":-1.1,"y":1.4,"v":0.26},{"x":-1,"y":1.4,"v":0.29},{"x":-0.9,"y":1.4,"v":0.3},{"x":-0.8,"y":1.4,"v":0.28},{"x":-0.7,"y":1.4,"v":0.22},{"x":-0.6,"y":1.4,"v":0.15},{"x":-0.5,"y":1.4,"v":0.1},{"x":-0.4,"y":1.4,"v":0.07},{"x":-0.3,"y":1.4,"v":0.065},{"x":-0.2,"y":1.4,"v":0.09},{"x":-0.1,"y":1.4,"v":0.13},
{"x":-2,"y":1,"v":0.045},{"x":-1.9,"y":1,"v":0.045},{"x":-1.8,"y":1,"v":0.05},{"x":-1.7,"y":1,"v":0.055},{"x":-1.6,"y":1,"v":0.065},{"x":-1.5,"y":1,"v":0.075},{"x":-1.4,"y":1,"v":0.09},{"x":-1.3,"y":1,"v":0.1},{"x":-1.2,"y":1,"v":0.12},{"x":-1.1,"y":1,"v":0.15},{"x":-1,"y":1,"v":0.18},{"x":-0.9,"y":1,"v":0.21},{"x":-0.8,"y":1,"v":0.22},{"x":-0.7,"y":1,"v":0.19},{"x":-0.6,"y":1,"v":0.14},{"x":-0.5,"y":1,"v":0.1},{"x":-0.4,"y":1,"v":0.075},{"x":-0.3,"y":1,"v":0.07},{"x":-0.2,"y":1,"v":0.09},{"x":-0.1,"y":1,"v":0.13}
],
"D": [
{"x":-2,"y":6.2,"v":0.1},{"x":-1.9,"y":6.2,"v":0.1},{"x":-1.8,"y":6.2,"v":0.1},{"x":-1.7,"y":6.2,"v":0.105},{"x":-1.6,"y":6.2,"v":0.11},{"x":-1.5,"y":6.2,"v":0.11},{"x":-1.4,"y":6.2,"v":0.115},{"x":-1.3,"y":6.2,"v":0.115},{"x":-1.2,"y":6.2,"v":0.11},{"x":-1.1,"y":6.2,"v":0.105},{"x":-1,"y":6.2,"v":0.1},{"x":-0.9,"y":6.2,"v":0.09},{"x":-0.8,"y":6.2,"v":0.07},{"x":-0.7,"y":6.2,"v":0.02},{"x":-0.6,"y":6.2,"v":0.01},{"x":-0.5,"y":6.2,"v":0.005},{"x":-0.4,"y":6.2,"v":0.005},{"x":-0.3,"y":6.2,"v":0.005},{"x":-0.2,"y":6.2,"v":0.005},{"x":-0.1,"y":6.2,"v":0.005},
{"x":-2,"y":5.8,"v":0.12},{"x":-1.9,"y":5.8,"v":0.12},{"x":-1.8,"y":5.8,"v":0.125},{"x":-1.7,"y":5.8,"v":0.13},{"x":-1.6,"y":5.8,"v":0.13},{"x":-1.5,"y":5.8,"v":0.135},{"x":-1.4,"y":5.8,"v":0.14},{"x":-1.3,"y":5.8,"v":0.14},{"x":-1.2,"y":5.8,"v":0.135},{"x":-1.1,"y":5.8,"v":0.13},{"x":-1,"y":5.8,"v":0.12},{"x":-0.9,"y":5.8,"v":0.105},{"x":-0.8,"y":5.8,"v":0.08},{"x":-0.7,"y":5.8,"v":0.025},{"x":-0.6,"y":5.8,"v":0.01},{"x":-0.5,"y":5.8,"v":0.005},{"x":-0.4,"y":5.8,"v":0.005},{"x":-0.3,"y":5.8,"v":0.005},{"x":-0.2,"y":5.8,"v":0.005},{"x":-0.1,"y":5.8,"v":0.005},
{"x":-2,"y":5.4,"v":0.15},{"x":-1.9,"y":5.4,"v":0.15},{"x":-1.8,"y":5.4,"v":0.155},{"x":-1.7,"y":5.4,"v":0.16},{"x":-1.6,"y":5.4,"v":0.165},{"x":-1.5,"y":5.4,"v":0.17},{"x":-1.4,"y":5.4,"v":0.175},{"x":-1.3,"y":5.4,"v":0.175},{"x":-1.2,"y":5.4,"v":0.17},{"x":-1.1,"y":5.4,"v":0.16},{"x":-1,"y":5.4,"v":0.145},{"x":-0.9,"y":5.4,"v":0.125},{"x":-0.8,"y":5.4,"v":0.09},{"x":-0.7,"y":5.4,"v":0.03},{"x":-0.6,"y":5.4,"v":0.01},{"x":-0.5,"y":5.4,"v":0.005},{"x":-0.4,"y":5.4,"v":0.005},{"x":-0.3,"y":5.4,"v":0.005},{"x":-0.2,"y":5.4,"v":0.005},{"x":-0.1,"y":5.4,"v":0.005},
{"x":-2,"y":5,"v":0.2},{"x":-1.9,"y":5,"v":0.2},{"x":-1.8,"y":5,"v":0.205},{"x":-1.7,"y":5,"v":0.21},{"x":-1.6,"y":5,"v":0.22},{"x":-1.5,"y":5,"v":0.225},{"x":-1.4,"y":5,"v":0.23},{"x":-1.3,"y":5,"v":0.23},{"x":-1.2,"y":5,"v":0.225},{"x":-1.1,"y":5,"v":0.21},{"x":-1,"y":5,"v":0.19},{"x":-0.9,"y":5,"v":0.16},{"x":-0.8,"y":5,"v":0.11},{"x":-0.7,"y":5,"v":0.04},{"x":-0.6,"y":5,"v":0.015},{"x":-0.5,"y":5,"v":0.005},{"x":-0.4,"y":5,"v":0.005},{"x":-0.3,"y":5,"v":0.005},{"x":-0.2,"y":5,"v":0.005},{"x":-0.1,"y":5,"v":0.005},
{"x":-2,"y":4.6,"v":0.28},{"x":-1.9,"y":4.6,"v":0.28},{"x":-1.8,"y":4.6,"v":0.285},{"x":-1.7,"y":4.6,"v":0.29},{"x":-1.6,"y":4.6,"v":0.3},{"x":-1.5,"y":4.6,"v":0.31},{"x":-1.4,"y":4.6,"v":0.32},{"x":-1.3,"y":4.6,"v":0.32},{"x":-1.2,"y":4.6,"v":0.31},{"x":-1.1,"y":4.6,"v":0.29},{"x":-1,"y":4.6,"v":0.26},{"x":-0.9,"y":4.6,"v":0.21},{"x":-0.8,"y":4.6,"v":0.14},{"x":-0.7,"y":4.6,"v":0.06},{"x":-0.6,"y":4.6,"v":0.02},{"x":-0.5,"y":4.6,"v":0.01},{"x":-0.4,"y":4.6,"v":0.005},{"x":-0.3,"y":4.6,"v":0.005},{"x":-0.2,"y":4.6,"v":0.005},{"x":-0.1,"y":4.6,"v":0.005},
{"x":-2,"y":4.2,"v":0.4},{"x":-1.9,"y":4.2,"v":0.4},{"x":-1.8,"y":4.2,"v":0.41},{"x":-1.7,"y":4.2,"v":0.42},{"x":-1.6,"y":4.2,"v":0.43},{"x":-1.5,"y":4.2,"v":0.44},{"x":-1.4,"y":4.2,"v":0.45},{"x":-1.3,"y":4.2,"v":0.45},{"x":-1.2,"y":4.2,"v":0.44},{"x":-1.1,"y":4.2,"v":0.42},{"x":-1,"y":4.2,"v":0.37},{"x":-0.9,"y":4.2,"v":0.3},{"x":-0.8,"y":4.2,"v":0.21},{"x":-0.7,"y":4.2,"v":0.11},{"x":-0.6,"y":4.2,"v":0.05},{"x":-0.5,"y":4.2,"v":0.02},{"x":-0.4,"y":4.2,"v":0.01},{"x":-0.3,"y":4.2,"v":0.005},{"x":-0.2,"y":4.2,"v":0.005},{"x":-0.1,"y":4.2,"v":0.005},
{"x":-2,"y":3.8,"v":0.54},{"x":-1.9,"y":3.8,"v":0.54},{"x":-1.8,"y":3.8,"v":0.55},{"x":-1.7,"y":3.8,"v":0.56},{"x":-1.6,"y":3.8,"v":0.57},{"x":-1.5,"y":3.8,"v":0.58},{"x":-1.4,"y":3.8,"v":0.6},{"x":-1.3,"y":3.8,"v":0.62},{"x":-1.2,"y":3.8,"v":0.63},{"x":-1.1,"y":3.8,"v":0.62},{"x":-1,"y":3.8,"v":0.56},{"x":-0.9,"y":3.8,"v":0.45},{"x":-0.8,"y":3.8,"v":0.33},{"x":-0.7,"y":3.8,"v":0.2},{"x":-0.6,"y":3.8,"v":0.09},{"x":-0.5,"y":3.8,"v":0.04},{"x":-0.4,"y":3.8,"v":0.015},{"x":-0.3,"y":3.8,"v":0.01},{"x":-0.2,"y":3.8,"v":0.005},{"x":-0.1,"y":3.8,"v":0.005},
{"x":-2,"y":3.4,"v":0.62},{"x":-1.9,"y":3.4,"v":0.62},{"x":-1.8,"y":3.4,"v":0.63},{"x":-1.7,"y":3.4,"v":0.64},{"x":-1.6,"y":3.4,"v":0.66},{"x":-1.5,"y":3.4,"v":0.68},{"x":-1.4,"y":3.4,"v":0.71},{"x":-1.3,"y":3.4,"v":0.75},{"x":-1.2,"y":3.4,"v":0.8},{"x":-1.1,"y":3.4,"v":0.84},{"x":-1,"y":3.4,"v":0.82},{"x":-0.9,"y":3.4,"v":0.75},{"x":-0.8,"y":3.4,"v":0.6},{"x":-0.7,"y":3.4,"v":0.42},{"x":-0.6,"y":3.4,"v":0.25},{"x":-0.5,"y":3.4,"v":0.12},{"x":-0.4,"y":3.4,"v":0.05},{"x":-0.3,"y":3.4,"v":0.02},{"x":-0.2,"y":3.4,"v":0.015},{"x":-0.1,"y":3.4,"v":0.015},
{"x":-2,"y":3,"v":0.57},{"x":-1.9,"y":3,"v":0.57},{"x":-1.8,"y":3,"v":0.58},{"x":-1.7,"y":3,"v":0.6},{"x":-1.6,"y":3,"v":0.62},{"x":-1.5,"y":3,"v":0.65},{"x":-1.4,"y":3,"v":0.69},{"x":-1.3,"y":3,"v":0.75},{"x":-1.2,"y":3,"v":0.83},{"x":-1.1,"y":3,"v":0.9},{"x":-1,"y":3,"v":0.92},{"x":-0.9,"y":3,"v":0.85},{"x":-0.8,"y":3,"v":0.7},{"x":-0.7,"y":3,"v":0.5},{"x":-0.6,"y":3,"v":0.3},{"x":-0.5,"y":3,"v":0.15},{"x":-0.4,"y":3,"v":0.07},{"x":-0.3,"y":3,"v":0.04},{"x":-0.2,"y":3,"v":0.03},{"x":-0.1,"y":3,"v":0.04},
{"x":-2,"y":2.6,"v":0.44},{"x":-1.9,"y":2.6,"v":0.44},{"x":-1.8,"y":2.6,"v":0.45},{"x":-1.7,"y":2.6,"v":0.47},{"x":-1.6,"y":2.6,"v":0.5},{"x":-1.5,"y":2.6,"v":0.53},{"x":-1.4,"y":2.6,"v":0.58},{"x":-1.3,"y":2.6,"v":0.65},{"x":-1.2,"y":2.6,"v":0.74},{"x":-1.1,"y":2.6,"v":0.82},{"x":-1,"y":2.6,"v":0.86},{"x":-0.9,"y":2.6,"v":0.82},{"x":-0.8,"y":2.6,"v":0.72},{"x":-0.7,"y":2.6,"v":0.55},{"x":-0.6,"y":2.6,"v":0.34},{"x":-0.5,"y":2.6,"v":0.18},{"x":-0.4,"y":2.6,"v":0.08},{"x":-0.3,"y":2.6,"v":0.05},{"x":-0.2,"y":2.6,"v":0.06},{"x":-0.1,"y":2.6,"v":0.1},
{"x":-2,"y":2.2,"v":0.28},{"x":-1.9,"y":2.2,"v":0.28},{"x":-1.8,"y":2.2,"v":0.29},{"x":-1.7,"y":2.2,"v":0.31},{"x":-1.6,"y":2.2,"v":0.34},{"x":-1.5,"y":2.2,"v":0.37},{"x":-1.4,"y":2.2,"v":0.42},{"x":-1.3,"y":2.2,"v":0.48},{"x":-1.2,"y":2.2,"v":0.56},{"x":-1.1,"y":2.2,"v":0.65},{"x":-1,"y":2.2,"v":0.72},{"x":-0.9,"y":2.2,"v":0.72},{"x":-0.8,"y":2.2,"v":0.66},{"x":-0.7,"y":2.2,"v":0.52},{"x":-0.6,"y":2.2,"v":0.34},{"x":-0.5,"y":2.2,"v":0.18},{"x":-0.4,"y":2.2,"v":0.09},{"x":-0.3,"y":2.2,"v":0.06},{"x":-0.2,"y":2.2,"v":0.09},{"x":-0.1,"y":2.2,"v":0.15},
{"x":-2,"y":1.8,"v":0.14},{"x":-1.9,"y":1.8,"v":0.14},{"x":-1.8,"y":1.8,"v":0.15},{"x":-1.7,"y":1.8,"v":0.17},{"x":-1.6,"y":1.8,"v":0.19},{"x":-1.5,"y":1.8,"v":0.22},{"x":-1.4,"y":1.8,"v":0.26},{"x":-1.3,"y":1.8,"v":0.31},{"x":-1.2,"y":1.8,"v":0.37},{"x":-1.1,"y":1.8,"v":0.45},{"x":-1,"y":1.8,"v":0.53},{"x":-0.9,"y":1.8,"v":0.58},{"x":-0.8,"y":1.8,"v":0.56},{"x":-0.7,"y":1.8,"v":0.46},{"x":-0.6,"y":1.8,"v":0.31},{"x":-0.5,"y":1.8,"v":0.18},{"x":-0.4,"y":1.8,"v":0.1},{"x":-0.3,"y":1.8,"v":0.07},{"x":-0.2,"y":1.8,"v":0.1},{"x":-0.1,"y":1.8,"v":0.16},
{"x":-2,"y":1.4,"v":0.05},{"x":-1.9,"y":1.4,"v":0.05},{"x":-1.8,"y":1.4,"v":0.055},{"x":-1.7,"y":1.4,"v":0.065},{"x":-1.6,"y":1.4,"v":0.08},{"x":-1.5,"y":1.4,"v":0.1},{"x":-1.4,"y":1.4,"v":0.12},{"x":-1.3,"y":1.4,"v":0.15},{"x":-1.2,"y":1.4,"v":0.2},{"x":-1.1,"y":1.4,"v":0.26},{"x":-1,"y":1.4,"v":0.33},{"x":-0.9,"y":1.4,"v":0.39},{"x":-0.8,"y":1.4,"v":0.42},{"x":-0.7,"y":1.4,"v":0.38},{"x":-0.6,"y":1.4,"v":0.28},{"x":-0.5,"y":1.4,"v":0.17},{"x":-0.4,"y":1.4,"v":0.1},{"x":-0.3,"y":1.4,"v":0.07},{"x":-0.2,"y":1.4,"v":0.09},{"x":-0.1,"y":1.4,"v":0.13},
{"x":-2,"y":1,"v":0.015},{"x":-1.9,"y":1,"v":0.015},{"x":-1.8,"y":1,"v":0.02},{"x":-1.7,"y":1,"v":0.025},{"x":-1.6,"y":1,"v":0.03},{"x":-1.5,"y":1,"v":0.04},{"x":-1.4,"y":1,"v":0.05},{"x":-1.3,"y":1,"v":0.07},{"x":-1.2,"y":1,"v":0.1},{"x":-1.1,"y":1,"v":0.14},{"x":-1,"y":1,"v":0.19},{"x":-0.9,"y":1,"v":0.25},{"x":-0.8,"y":1,"v":0.3},{"x":-0.7,"y":1,"v":0.3},{"x":-0.6,"y":1,"v":0.24},{"x":-0.5,"y":1,"v":0.15},{"x":-0.4,"y":1,"v":0.09},{"x":-0.3,"y":1,"v":0.06},{"x":-0.2,"y":1,"v":0.07},{"x":-0.1,"y":1,"v":0.09}
]
},
"resolve": {"scale": {"fill": "independent", "color": "independent", "shape": "independent"}, "legend": {"fill": "independent", "color": "independent", "shape": "independent"}},
"spacing": 30,
"vconcat": [
{
"resolve": {"scale": {"fill": "independent", "color": "independent", "shape": "independent"}, "legend": {"fill": "independent", "color": "independent", "shape": "independent"}},
"spacing": 64,
"hconcat": [
{
"width": 321, "height": 255,
"title": {"text": "3 x M = 0.3M⊕", "font": "DejaVu Sans", "fontSize": 22, "fontWeight": "normal", "offset": 12, "color": "black", "anchor": "middle"},
"layer": [
{"data": {"name": "A"}, "mark": {"type": "rect", "clip": true, "binSpacing": 0},
 "encoding": {
  "x": {"field": "x", "type": "quantitative", "bin": {"binned": true, "step": 0.1}, "scale": {"domain": [-2, 0], "nice": false, "zero": false},
        "axis": {"title": null, "values": [-2,-1.69897,-1.52288,-1.39794,-1.30103,-1.22185,-1.1549,-1.09691,-1.04576,-1,-0.69897,-0.52288,-0.39794,-0.30103,-0.22185,-0.1549,-0.09691,-0.04576,0],
                 "labelExpr": "datum.value == -2 ? '10⁻²' : datum.value == -1 ? '10⁻¹' : datum.value == 0 ? '10⁰' : ''",
                 "tickSize": {"condition": {"test": "abs(datum.value - round(datum.value)) < 0.001", "value": 8}, "value": 4.5}, "labelPadding": 17, "labelFlush": false, "labelOverlap": false}},
  "y": {"field": "y", "type": "quantitative", "bin": {"binned": true, "step": 0.4}, "scale": {"domain": [1, 6.55], "nice": false, "zero": false},
        "axis": {"title": "vᵢₘₚ/vₑₛc", "values": [2, 4, 6], "format": "d", "tickSize": 8, "labelFontSize": 24, "labelPadding": 8, "titlePadding": 10}},
  "fill": {"field": "v", "type": "quantitative", "scale": {"scheme": "redyellowblue", "domain": [-0.001, 0.574]},
        "legend": {"title": "events/contour", "titleAngle": 270, "titleBaseline": "bottom", "labelBaseline": "middle", "values": [0,0.06,0.12,0.18,0.24,0.3,0.36,0.42,0.48,0.54], "format": ".2f"}}
 }},
{"data": {"values": [{"x": -1.738}]}, "mark": {"type": "rule", "color": "white", "strokeWidth": 3}, "encoding": {"x": {"field": "x", "type": "quantitative"}}},
{"data": {"name": "mk"}, "mark": {"type": "point", "filled": true, "opacity": 1, "size": 324, "strokeWidth": 0},
 "encoding": {
  "x": {"field": "x", "type": "quantitative"},
  "y": {"field": "y", "type": "quantitative"},
  "color": {"field": "label", "type": "nominal",
    "scale": {"domain": ["M_MFM/M_emb", "B07; head-on", "B07, b = 0.5", "C18; b ~ 0.4", "C18; b = 0.5; Nᵢₘₚ = 4", "C18; b = 0.7; Nᵢₘₚ = 12"], "range": ["white", "black", "black", "black", "black", "black"]},
    "legend": {"title": null, "orient": "top-left", "offset": 8, "fillColor": "rgba(255,255,255,0.8)", "strokeColor": "#cccccc", "cornerRadius": 4, "padding": 7, "symbolSize": 324, "symbolStrokeWidth": 0, "symbolOffset": 6, "labelOffset": 20, "labelFont": "Liberation Serif", "labelFontSize": 15, "labelColor": "black", "rowPadding": 10, "labelLimit": 300, "titlePadding": 0}},
  "shape": {"field": "label", "type": "nominal",
    "scale": {"domain": ["M_MFM/M_emb", "B07; head-on", "B07, b = 0.5", "C18; b ~ 0.4", "C18; b = 0.5; Nᵢₘₚ = 4", "C18; b = 0.7; Nᵢₘₚ = 12"],
              "range": ["M-1.9,-0.17L1.9,-0.17L1.9,0.17L-1.9,0.17Z", "square", "M0,-1.3L0.82,0L0,1.3L-0.82,0Z", "cross", "M0,-0.9L0.212,-0.291L0.856,-0.278L0.342,0.111L0.529,0.728L0,0.36L-0.529,0.728L-0.342,0.111L-0.856,-0.278L-0.212,-0.291Z", "triangle-down"]},
    "legend": {"title": null, "orient": "top-left", "offset": 8, "fillColor": "rgba(255,255,255,0.8)", "strokeColor": "#cccccc", "cornerRadius": 4, "padding": 7, "symbolSize": 324, "symbolStrokeWidth": 0, "symbolOffset": 6, "labelOffset": 20, "labelFont": "Liberation Serif", "labelFontSize": 15, "labelColor": "black", "rowPadding": 10, "labelLimit": 300, "titlePadding": 0}}
 }}
]
},
{
"width": 321, "height": 255,
"title": {"text": "4 x M = 0.10M⊕", "font": "DejaVu Sans", "fontSize": 22, "fontWeight": "normal", "offset": 12, "color": "black", "anchor": "middle"},
"layer": [
{"data": {"name": "B"}, "mark": {"type": "rect", "clip": true, "binSpacing": 0},
 "encoding": {
  "x": {"field": "x", "type": "quantitative", "bin": {"binned": true, "step": 0.1}, "scale": {"domain": [-2, 0], "nice": false, "zero": false},
        "axis": {"title": null, "values": [-2,-1.69897,-1.52288,-1.39794,-1.30103,-1.22185,-1.1549,-1.09691,-1.04576,-1,-0.69897,-0.52288,-0.39794,-0.30103,-0.22185,-0.1549,-0.09691,-0.04576,0],
                 "labelExpr": "datum.value == -2 ? '10⁻²' : datum.value == -1 ? '10⁻¹' : datum.value == 0 ? '10⁰' : ''",
                 "tickSize": {"condition": {"test": "abs(datum.value - round(datum.value)) < 0.001", "value": 8}, "value": 4.5}, "labelPadding": 17, "labelFlush": false, "labelOverlap": false}},
  "y": {"field": "y", "type": "quantitative", "bin": {"binned": true, "step": 0.4}, "scale": {"domain": [1, 6.55], "nice": false, "zero": false},
        "axis": {"title": null, "values": [2, 4, 6], "format": "d", "tickSize": 8, "labelFontSize": 24, "labelPadding": 8}},
  "fill": {"field": "v", "type": "quantitative", "scale": {"scheme": "redyellowblue", "domain": [-0.001, 0.3605]},
        "legend": {"title": "events/contour", "titleAngle": 270, "titleBaseline": "bottom", "labelBaseline": "middle", "values": [0,0.04,0.08,0.12,0.16,0.2,0.24,0.28,0.32,0.36], "format": ".2f"}}
 }},
{"data": {"values": [{"x": -1.261}]}, "mark": {"type": "rule", "color": "white", "strokeWidth": 3}, "encoding": {"x": {"field": "x", "type": "quantitative"}}},
{"data": {"name": "mk"}, "mark": {"type": "point", "filled": true, "opacity": 1, "size": 324, "strokeWidth": 0},
 "encoding": {
  "x": {"field": "x", "type": "quantitative"},
  "y": {"field": "y", "type": "quantitative"},
  "color": {"field": "label", "type": "nominal", "scale": {"domain": ["M_MFM/M_emb", "B07; head-on", "B07, b = 0.5", "C18; b ~ 0.4", "C18; b = 0.5; Nᵢₘₚ = 4", "C18; b = 0.7; Nᵢₘₚ = 12"], "range": ["white", "black", "black", "black", "black", "black"]}, "legend": null},
  "shape": {"field": "label", "type": "nominal", "scale": {"domain": ["M_MFM/M_emb", "B07; head-on", "B07, b = 0.5", "C18; b ~ 0.4", "C18; b = 0.5; Nᵢₘₚ = 4", "C18; b = 0.7; Nᵢₘₚ = 12"],
              "range": ["M-1.9,-0.17L1.9,-0.17L1.9,0.17L-1.9,0.17Z", "square", "M0,-1.3L0.82,0L0,1.3L-0.82,0Z", "cross", "M0,-0.9L0.212,-0.291L0.856,-0.278L0.342,0.111L0.529,0.728L0,0.36L-0.529,0.728L-0.342,0.111L-0.856,-0.278L-0.212,-0.291Z", "triangle-down"]}, "legend": null}
 }}
]
}
]
},
{
"resolve": {"scale": {"fill": "independent", "color": "independent", "shape": "independent"}, "legend": {"fill": "independent", "color": "independent", "shape": "independent"}},
"spacing": 53,
"hconcat": [
{
"width": 321, "height": 255,
"title": {"text": "5 x M = 0.05M⊕", "font": "DejaVu Sans", "fontSize": 22, "fontWeight": "normal", "offset": 12, "color": "black", "anchor": "middle"},
"layer": [
{"data": {"name": "C"}, "mark": {"type": "rect", "clip": true, "binSpacing": 0},
 "encoding": {
  "x": {"field": "x", "type": "quantitative", "bin": {"binned": true, "step": 0.1}, "scale": {"domain": [-2, 0], "nice": false, "zero": false},
        "axis": {"title": "Mₚᵣₒⱼ/Mₜₐᵣg", "values": [-2,-1.69897,-1.52288,-1.39794,-1.30103,-1.22185,-1.1549,-1.09691,-1.04576,-1,-0.69897,-0.52288,-0.39794,-0.30103,-0.22185,-0.1549,-0.09691,-0.04576,0],
                 "labelExpr": "datum.value == -2 ? '10⁻²' : datum.value == -1 ? '10⁻¹' : datum.value == 0 ? '10⁰' : ''",
                 "tickSize": {"condition": {"test": "abs(datum.value - round(datum.value)) < 0.001", "value": 8}, "value": 4.5}, "labelPadding": 17, "labelFlush": false, "labelOverlap": false, "titlePadding": 13}},
  "y": {"field": "y", "type": "quantitative", "bin": {"binned": true, "step": 0.4}, "scale": {"domain": [1, 6.55], "nice": false, "zero": false},
        "axis": {"title": "vᵢₘₚ/vₑₛc", "values": [2, 4, 6], "format": "d", "tickSize": 8, "labelFontSize": 24, "labelPadding": 8, "titlePadding": 10}},
  "fill": {"field": "v", "type": "quantitative", "scale": {"scheme": "redyellowblue", "domain": [-0.001, 0.662]},
        "legend": {"title": "events/contour", "titleAngle": 270, "titleBaseline": "bottom", "labelBaseline": "middle", "values": [0,0.075,0.15,0.225,0.3,0.375,0.45,0.525,0.6], "format": ".3f"}}
 }},
{"data": {"values": [{"x": -0.961}]}, "mark": {"type": "rule", "color": "white", "strokeWidth": 3}, "encoding": {"x": {"field": "x", "type": "quantitative"}}},
{"data": {"name": "mk"}, "mark": {"type": "point", "filled": true, "opacity": 1, "size": 324, "strokeWidth": 0},
 "encoding": {
  "x": {"field": "x", "type": "quantitative"},
  "y": {"field": "y", "type": "quantitative"},
  "color": {"field": "label", "type": "nominal", "scale": {"domain": ["M_MFM/M_emb", "B07; head-on", "B07, b = 0.5", "C18; b ~ 0.4", "C18; b = 0.5; Nᵢₘₚ = 4", "C18; b = 0.7; Nᵢₘₚ = 12"], "range": ["white", "black", "black", "black", "black", "black"]}, "legend": null},
  "shape": {"field": "label", "type": "nominal", "scale": {"domain": ["M_MFM/M_emb", "B07; head-on", "B07, b = 0.5", "C18; b ~ 0.4", "C18; b = 0.5; Nᵢₘₚ = 4", "C18; b = 0.7; Nᵢₘₚ = 12"],
              "range": ["M-1.9,-0.17L1.9,-0.17L1.9,0.17L-1.9,0.17Z", "square", "M0,-1.3L0.82,0L0,1.3L-0.82,0Z", "cross", "M0,-0.9L0.212,-0.291L0.856,-0.278L0.342,0.111L0.529,0.728L0,0.36L-0.529,0.728L-0.342,0.111L-0.856,-0.278L-0.212,-0.291Z", "triangle-down"]}, "legend": null}
 }}
]
},
{
"width": 321, "height": 255,
"title": {"text": "6 x M = 0.025M⊕", "font": "DejaVu Sans", "fontSize": 22, "fontWeight": "normal", "offset": 12, "color": "black", "anchor": "middle"},
"layer": [
{"data": {"name": "D"}, "mark": {"type": "rect", "clip": true, "binSpacing": 0},
 "encoding": {
  "x": {"field": "x", "type": "quantitative", "bin": {"binned": true, "step": 0.1}, "scale": {"domain": [-2, 0], "nice": false, "zero": false},
        "axis": {"title": "Mₚᵣₒⱼ/Mₜₐᵣg", "values": [-2,-1.69897,-1.52288,-1.39794,-1.30103,-1.22185,-1.1549,-1.09691,-1.04576,-1,-0.69897,-0.52288,-0.39794,-0.30103,-0.22185,-0.1549,-0.09691,-0.04576,0],
                 "labelExpr": "datum.value == -2 ? '10⁻²' : datum.value == -1 ? '10⁻¹' : datum.value == 0 ? '10⁰' : ''",
                 "tickSize": {"condition": {"test": "abs(datum.value - round(datum.value)) < 0.001", "value": 8}, "value": 4.5}, "labelPadding": 17, "labelFlush": false, "labelOverlap": false, "titlePadding": 13}},
  "y": {"field": "y", "type": "quantitative", "bin": {"binned": true, "step": 0.4}, "scale": {"domain": [1, 6.55], "nice": false, "zero": false},
        "axis": {"title": null, "values": [2, 4, 6], "format": "d", "tickSize": 8, "labelFontSize": 24, "labelPadding": 8}},
  "fill": {"field": "v", "type": "quantitative", "scale": {"scheme": "redyellowblue", "domain": [-0.001, 0.98]},
        "legend": {"title": "events/contour", "titleAngle": 270, "titleBaseline": "bottom", "labelBaseline": "middle", "values": [0,0.1,0.2,0.3,0.4,0.5,0.6,0.7,0.8,0.9], "format": ".1f"}}
 }},
{"data": {"values": [{"x": -0.659}]}, "mark": {"type": "rule", "color": "white", "strokeWidth": 3}, "encoding": {"x": {"field": "x", "type": "quantitative"}}},
{"data": {"name": "mk"}, "mark": {"type": "point", "filled": true, "opacity": 1, "size": 324, "strokeWidth": 0},
 "encoding": {
  "x": {"field": "x", "type": "quantitative"},
  "y": {"field": "y", "type": "quantitative"},
  "color": {"field": "label", "type": "nominal", "scale": {"domain": ["M_MFM/M_emb", "B07; head-on", "B07, b = 0.5", "C18; b ~ 0.4", "C18; b = 0.5; Nᵢₘₚ = 4", "C18; b = 0.7; Nᵢₘₚ = 12"], "range": ["white", "black", "black", "black", "black", "black"]}, "legend": null},
  "shape": {"field": "label", "type": "nominal", "scale": {"domain": ["M_MFM/M_emb", "B07; head-on", "B07, b = 0.5", "C18; b ~ 0.4", "C18; b = 0.5; Nᵢₘₚ = 4", "C18; b = 0.7; Nᵢₘₚ = 12"],
              "range": ["M-1.9,-0.17L1.9,-0.17L1.9,0.17L-1.9,0.17Z", "square", "M0,-1.3L0.82,0L0,1.3L-0.82,0Z", "cross", "M0,-0.9L0.212,-0.291L0.856,-0.278L0.342,0.111L0.529,0.728L0,0.36L-0.529,0.728L-0.342,0.111L-0.856,-0.278L-0.212,-0.291Z", "triangle-down"]}, "legend": null}
 }}
]
}
]
}
],
"config": {
 "view": {"stroke": "black", "strokeWidth": 1.3},
 "axis": {"grid": false, "domain": false, "labelFont": "Liberation Serif", "labelFontSize": 22, "labelColor": "black", "tickColor": "black", "tickWidth": 1.2,
          "titleFont": "DejaVu Sans", "titleFontSize": 32, "titleFontStyle": "italic", "titleFontWeight": "normal", "titleColor": "black"},
 "legend": {"gradientLength": 255, "gradientThickness": 12, "gradientStrokeColor": "black", "gradientStrokeWidth": 1,
            "labelFont": "Liberation Serif", "labelFontSize": 22, "labelColor": "black", "labelOffset": 14, "labelOverlap": false, "labelBaseline": "middle",
            "titleFont": "Liberation Serif", "titleFontSize": 24, "titleFontWeight": "normal", "titleColor": "black",
            "titleOrient": "right", "titleAnchor": "middle", "titleAlign": "center", "titlePadding": 32, "offset": 19}
}
}
